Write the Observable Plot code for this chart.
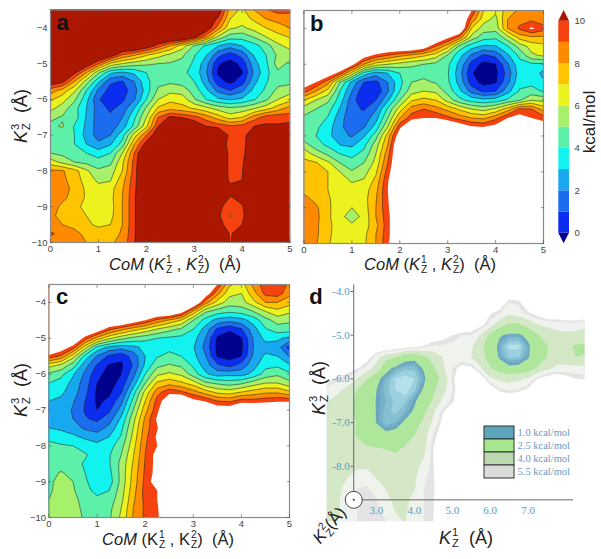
<!DOCTYPE html>
<html><head><meta charset="utf-8">
<script src="https://cdn.jsdelivr.net/npm/d3@7"></script>
<script src="https://cdn.jsdelivr.net/npm/@observablehq/plot@0.6"></script>
<style>
html,body{margin:0;padding:0;background:#fff}
#fig{position:relative;width:601px;height:559px;overflow:hidden;font-family:"Liberation Sans",sans-serif}
#fig svg{position:absolute;background:transparent}
.lab{position:absolute;white-space:nowrap;color:#222;transform-origin:center center;display:flex;align-items:center;line-height:1}
.kk{display:inline-flex;align-items:center;font-style:italic}
.st{display:inline-flex;flex-direction:column;font-size:.62em;line-height:.95;margin-left:1px;font-style:normal}
</style></head><body><div id="fig"></div>
<script>
const gridColumns = 21, gridRows = 27;
const panelA = [
12,12,12,12,12,12,12,12,12,12,12,12,12,12,11,7.5,6.8,8,8.9,9.4,9.3,
12,12,12,12,12,12,12,12,12,12,12,12,12,11,9.8,7,6.5,7.2,8,8.3,8.5,
12,12,12,12,12,12,12,12,12,12,12,12,12,11,8.5,6.2,5.8,6.4,7,7.6,8,
12,12,12,12,12,12,12,12,12,12,12,12,10.5,8.5,5.8,4.5,4.4,5.1,6,6.6,7.1,
12,12,12,12,12,12,12,12,11,9.5,8,6.5,4.9,3.8,3,2.4,3,3.6,4.5,5.8,6.3,
12,12,12,12,12,11,9,8.2,7.2,6.4,5.8,5.2,4.1,3.1,1.35,0.55,1.4,3.1,4,5.2,5.6,
12,12,12,11,9,6.8,6,5.5,5.2,5,4.9,4.7,3.8,2.4,0.1,-0.45,0.3,2.6,3.8,5.5,4.7,
12,12,10.3,8,5.2,3.2,2.8,3.2,4,4.4,4.3,4.2,3.7,2.1,-0.15,-0.8,-0.1,2.2,3.7,4.8,4.3,
11,10.3,8,5.5,3.2,1.2,0.9,2,3.7,4.7,4.8,4.6,4,2.5,0.35,-0.3,0.5,2.7,3.9,4.6,4.7,
8.5,7.6,6.2,4,1.8,0.6,0.5,1.6,3.5,5.2,5.7,5.5,4.6,3.2,1.7,1,1.8,3.3,4.2,5.3,5.6,
7.2,6.4,5.2,3.3,1.1,0.3,0.8,1.9,4,6,6.7,6.6,5.1,4,3.2,2.9,3.2,3.9,4.8,6,6.6,
6.3,5.5,4.4,3,1.5,0.8,1.4,3,5.2,7.2,7.7,7.3,6.9,6.3,5.6,5.2,5.4,5.9,6.6,7.5,8.5,
5.2,4.9,4.5,2.9,1.5,1.2,2,3.8,6,9,10.2,9.9,9.4,8.5,7.5,6.5,7,8.5,9.5,9.7,9.4,
4.8,5.1,3.9,2.8,1.5,1.4,2.5,4.3,6.7,10,11.5,12,11,10,9.6,9.2,9.4,10,10.2,10.1,10.5,
4.6,4.3,4,2.6,1.6,2,3.6,6.5,9,11,12,12,12,12,12,9.6,9.5,11,12,12,12,
4.7,4.4,4,3,2.2,2.9,4.4,8,10.5,12,12,12,12,12,11,9.5,9.6,11,12,12,12,
5,4.7,4.5,4,3.5,4,6,9,12,12,12,12,12,12,12,9.5,9.7,11,12,12,12,
6.5,5.7,5,4.7,4.4,4.7,6.8,9.4,12,12,12,12,12,12,12,9.5,9.8,11.5,12,12,12,
8.2,8.1,7.4,6.2,5.2,5.5,7,9.5,12,12,12,12,12,12,12,9.5,9.9,12,12,12,12,
8.4,8.2,7.6,6.5,5.8,5.9,7.6,9.6,12,12,12,12,12,12,12,9.6,10,12,12,12,12,
8.5,8.3,7.8,6.8,6.3,6.6,7.9,9.7,12,12,12,12,12,12,12,10.5,11,12,12,12,12,
8.5,8.3,7.5,6.9,6.4,6.7,8,9.8,12,12,12,12,12,12,11,9.9,10.3,12,12,12,12,
8.6,7.7,7.2,6.8,6.4,6.6,8,9.8,12,12,12,12,12,12,10.4,9.3,9.9,11,12,12,12,
8.5,7.3,7.3,7,6.5,6.7,8,9.8,12,12,12,12,12,12,10.2,8.9,9.8,11,12,12,12,
8.2,8,7.8,7.2,6.8,7,8,9.8,12,12,12,12,12,12,10.4,9.5,10,12,12,12,12,
9.2,8.6,8.2,7.8,7.5,7.3,8.2,9.8,12,12,12,12,12,12,11,9.9,10.5,12,12,12,12,
8.5,8.4,8.3,8,7.8,7.8,8.4,9.9,12,12,12,12,12,12,12,9.9,11,12,12,12,12];
const panelB = [
12,12,12,12,12,12,12,12,12,12,12,12,12,12,10,7,6.2,7.5,8.2,8.2,8,
12,12,12,12,12,12,12,12,12,12,12,12,12,12,8.7,6.4,5.7,8,8.6,8.8,8.4,
12,12,12,12,12,12,12,12,12,12,12,12,12,12,6.9,5.5,5.4,8,9.2,10.2,9.4,
12,12,12,12,12,12,12,12,12,12,12,12,10.3,8.6,5.6,4.4,4.2,5.6,7.4,7.8,7.8,
12,12,12,12,12,12,12,12,12,12,11,9,7.4,4.6,3.4,2.8,2.9,3.9,5.4,6.4,6.7,
12,12,12,12,12,10.8,9.7,9,8.3,7.8,7.2,6.5,4.9,3.3,1.8,0.85,1.3,2.8,4.2,5.8,6.2,
12,12,12,12,10.5,8,6.5,6,5.6,5.2,5,4.7,4.2,2.7,0.6,-0.35,-0.05,1.85,3.7,3.8,3.8,
12,12,11,9.5,6.6,3.6,2.5,3,4,4.5,4.7,4.4,4.1,2.4,0.1,-0.75,-0.3,1.4,3.5,3.8,2.6,
11,10,8.4,5,2.7,1,0.7,2,3.7,5,5.2,4.9,4.2,2.6,0.5,-0.4,-0.1,1.75,3.7,3.7,3.2,
9.4,8,6.6,4,2,0.3,0.2,1.9,4,5.6,6,5.8,4.6,3.2,1.6,0.8,1,2.6,4.1,4.4,3.9,
7,6,5.2,3.5,1.4,0.2,1,2.8,5,6.9,7.3,7,5.6,4.3,3.6,3.3,3.5,4.2,4.9,5.9,5.7,
5.5,5,4.4,2.9,1.3,0.9,1.9,4.2,6.5,8.5,9,8.4,7.7,6.8,6,5.6,6.2,7.5,9.2,9,7.6,
4.8,4.6,3.9,2.4,1.3,1.4,2.6,5,8,9.6,10,10,9.3,8.6,8,7.8,8.7,10,10.6,10,9.5,
4.3,4.2,3.5,2.2,1.5,1.9,3.4,6,9.7,12,12,12,12,11,10.2,10,10.5,12,12,12,11,
4.3,4,3.3,2.3,1.9,2.9,4.6,7.5,11,12,12,12,12,12,12,12,12,12,12,12,12,
5.5,4.4,3.8,3,2.8,3.7,5.5,8,12,12,12,12,12,12,12,12,12,12,12,12,12,
6.6,5.6,4.8,4,3.7,4.3,6,8.6,12,12,12,12,12,12,12,12,12,12,12,12,12,
7.3,7.1,6.2,5,4.4,5,6.3,9,12,12,12,12,12,12,12,12,12,12,12,12,12,
7.6,7.4,7,6,5.1,5.6,6.8,9.5,12,12,12,12,12,12,12,12,12,12,12,12,12,
7.6,7.5,7,6.4,5.9,6.1,7.3,9.9,12,12,12,12,12,12,12,12,12,12,12,12,12,
7.7,7.5,7,6.5,6.4,6.5,7.7,10,12,12,12,12,12,12,12,12,12,12,12,12,12,
8.3,7.7,7.1,6.6,6.3,6.6,7.9,9.9,12,12,12,12,12,12,12,12,12,12,12,12,12,
8.5,8.2,7.2,6.4,6,6.5,8,9.8,12,12,12,12,12,12,12,12,12,12,12,12,12,
8.6,8.3,7.2,6.3,5.5,6.3,8,9.6,12,12,12,12,12,12,12,12,12,12,12,12,12,
8.5,8.2,7.3,6.4,6.2,6.5,7.7,9.6,12,12,12,12,12,12,12,12,12,12,12,12,12,
8.5,8.2,7.2,6.5,6.5,6.7,8,9.6,12,12,12,12,12,12,12,12,12,12,12,12,12,
8.4,8.1,7.1,6.5,6.6,6.8,8,9.8,12,12,12,12,12,12,12,12,12,12,12,12,12];
const panelC = [
12,12,12,12,12,12,12,12,12,12,12,12,12,12,10,7.2,6.5,8.3,9.6,9.6,8.8,
12,12,12,12,12,12,12,12,12,12,12,12,12,11,8.3,6.3,6,7.6,9.3,9.5,8.3,
12,12,12,12,12,12,12,12,12,12,12,12,12,8.5,6.6,5.5,5.6,6.7,8,8,7.4,
12,12,12,12,12,12,12,12,12,12,12,10.7,7.8,5.2,4.5,4.2,4.4,5,6,6.7,6.2,
12,12,12,12,12,12,12,11,10,8.7,7.8,6.9,5,3.6,2.6,2.3,2.6,3.4,4.6,5.4,5.2,
12,12,12,12,11,9.3,8.3,7.4,6.7,5.9,5.3,4.8,4,2.6,0.8,0.15,0.9,2.6,3.9,4.5,4.5,
12,12,12,9.5,7.6,6.2,5.3,4.7,4.3,4,3.8,3.7,3.4,2,-0.2,-0.6,-0.1,2.1,3.3,3.2,2.7,
12,11,9.5,6.5,3.7,2.8,2.4,2.7,3.3,3.6,3.7,3.5,3.1,1.7,-0.3,-1,-0.25,2,2.6,2.5,0.5,
9.7,8.8,6.4,3.6,1.9,0.8,0.3,1.4,3,3.9,4.3,4,3.3,2.1,-0.1,-0.45,0,2.2,3.2,3,1.9,
6.4,5.8,4.5,2.4,0.9,-0.1,-0.2,1.1,3.2,4.7,5.1,4.8,3.8,2.5,1.2,0.6,1.4,2.6,3.7,3.8,3.1,
4.8,4.3,3.1,1.8,0.3,-0.4,0,1.6,4,5.8,6.2,5.8,4.5,3.2,2.5,2.7,2.6,3.3,4.4,4.8,4.2,
4,3.6,2.7,1.5,0,-0.4,0.3,2.4,5,7.2,7.6,7.2,6.5,5.2,4.8,4.5,4.8,5.5,6,6,5.3,
3.5,3.2,2.5,1.3,-0.2,-0.2,0.9,3.5,6.3,8.6,9.7,9.2,8.4,7.5,6.7,6.5,7,7.4,7.8,7.8,7.2,
3,2.8,2.1,1,-0.2,0.2,1.7,4.3,7,9.4,11,12,10.4,9.9,9,8.8,9.5,9.4,9.6,9.8,9.8,
2.8,2.5,1.9,0.9,0,0.8,2.4,5,7.6,9.7,12,12,12,12,11,11,12,12,12,12,12,
2.6,2.5,2,1.1,0.8,1.5,3.2,5.6,8.2,10.2,12,12,12,12,12,12,12,12,12,12,12,
3,2.8,2.5,1.8,1.5,2.3,3.7,6,8.5,9.9,12,12,12,12,12,12,12,12,12,12,12,
3.8,3.5,3.2,2.8,2.5,3,4.1,6.3,8.7,10.2,12,12,12,12,12,12,12,12,12,12,12,
4.2,4.1,4,3.6,3.3,3.6,4.6,6.6,8.9,10,12,12,12,12,12,12,12,12,12,12,12,
4.3,4.3,4.3,4.1,3.6,3.9,5,6.9,9,10.5,12,12,12,12,12,12,12,12,12,12,12,
4.4,4.4,4.3,3.9,3.4,3.9,5.3,7.1,9.1,10.5,12,12,12,12,12,12,12,12,12,12,12,
4.6,5.1,4.6,4,3.3,3.7,5.3,7.3,9.2,10.5,12,12,12,12,12,12,12,12,12,12,12,
4.7,5.5,5,4.2,3.2,3.5,5.3,7.4,9.3,10.8,12,12,12,12,12,12,12,12,12,12,12,
4.8,5.5,5.1,4.4,3.6,4,5.5,7.6,9.4,10,12,12,12,12,12,12,12,12,12,12,12,
5,5.6,5.3,4.6,4.3,4.4,5.7,7.8,9.3,10,12,12,12,12,12,12,12,12,12,12,12,
5.2,5.6,5.3,4.8,4.5,4.7,6,8,9.2,9.8,12,12,12,12,12,12,12,12,12,12,12,
5.3,5.6,5.3,4.9,4.6,4.8,6.2,8.1,9.2,9.7,12,12,12,12,12,12,12,12,12,12,12];
const dColumns = 28, dRows = 22;
const panelD = [
7,7,7,7,7,7,7,7,7,7,7,7,7,7,7,7,7,7,7,7,7,7,7,7,7,7,7,7,
7,7,7,7,7,7,7,7,7,7,7,7,7,7,7,7,7,7,6.5,5,5.2,6.8,7,7,7,7,7,7,
7,7,7,7,7,7,7,7,7,7,7,7,7,7,7,7,7,5.6,5,4.2,4.6,5.3,6,7,7,7,7,7,
7,7,7,7,7,7,7,7,7,7,7,7,7,7,7,6.6,6,4.7,3.1,2.4,2.4,3.1,4,4.2,4.4,4.6,4.7,4.3,
7,7,7,7,7,7,7,7,7,7,7,6.3,6,5.5,5,5,3.8,2.1,1.1,0.8,0.8,1.3,2.3,3.5,3.7,3.7,3.6,3.5,
7,7,7,7,7,7,7,6.6,6.3,5.9,5.4,5,4.9,4.7,4.4,4.2,2.9,1.6,0.75,0.35,0.35,0.8,1.8,2.4,3.3,2.9,2.3,2.2,
7,7,6.9,6.6,6.2,4.5,3,2.6,1.3,1.2,2.2,3,4,4.2,4.2,4,3,1.8,0.85,0.5,0.5,0.9,1.9,2.5,3.5,3.1,2.5,2.6,
6.8,6.5,6,5.6,4.6,3.5,1.3,0.8,0.6,0.6,1.1,2.3,3.8,5,6,5.7,4.1,2.6,1.7,1.15,1.2,1.6,2.6,3.6,4.2,4.4,4.4,4.3,
5.7,5.3,4.9,3.9,2.6,1.2,0.7,0.4,0.3,0.4,0.8,2,2.8,5.2,6.5,7,6.5,4.2,3.7,3.5,3.7,4.2,5.5,6.2,6.5,6,5.5,5.4,
4.6,4.2,3.6,2.4,1.6,1,0.6,0.4,0.3,0.5,1.1,2.2,3.5,5,6.5,7,7,6.4,5.2,4.8,5.1,5.7,6.5,7,7,7,7,7,
4,3.6,3,2.1,1.5,0.95,0.7,0.5,0.5,0.9,1.4,2.7,4.2,5.3,6.5,7,7,7,7,7,7,7,7,7,7,7,7,7,
3.6,3.4,2.9,2.2,1.6,0.95,0.6,0.5,0.7,1.1,2.2,3.8,5.4,6.2,7,7,7,7,7,7,7,7,7,7,7,7,7,7,
3.6,3.4,3,2.4,1.7,0.95,0.6,0.7,1.1,1.8,2.8,4.3,5.8,7,7,7,7,7,7,7,7,7,7,7,7,7,7,7,
3.7,3.5,3.2,2.3,2,1.6,1.1,1.2,1.7,2.4,3.3,5,6.2,7,7,7,7,7,7,7,7,7,7,7,7,7,7,7,
3.7,3.6,3.4,2.8,2.4,2.2,2.1,2.1,2.4,3,3.6,5.4,6.5,7,7,7,7,7,7,7,7,7,7,7,7,7,7,7,
3.8,3.7,3.6,3.5,3.4,3.2,3,2.6,3,3.5,3.9,5.5,6.8,7,7,7,7,7,7,7,7,7,7,7,7,7,7,7,
3.8,3.8,3.8,3.8,3.8,3.6,3.5,3.4,3.5,3.7,4.3,5.4,7,7,7,7,7,7,7,7,7,7,7,7,7,7,7,7,
3.8,3.8,4,4.4,4.6,3.9,3.6,3.5,3.6,3.8,4.8,5.4,7,7,7,7,7,7,7,7,7,7,7,7,7,7,7,7,
3.8,3.8,4.4,5,5.1,4.6,3.9,3.6,3.7,3.9,5,5.3,7,7,7,7,7,7,7,7,7,7,7,7,7,7,7,7,
3.9,3.9,4.5,5,5.1,5,4.3,3.7,3.7,4.3,5,5.4,7,7,7,7,7,7,7,7,7,7,7,7,7,7,7,7,
3.9,3.9,4.6,5,5.1,5.1,4.8,3.9,3.8,4.6,5,5.4,7,7,7,7,7,7,7,7,7,7,7,7,7,7,7,7,
3.9,4,4.7,5,5.1,5.1,5,4.3,3.9,4.8,5,5.5,7,7,7,7,7,7,7,7,7,7,7,7,7,7,7,7];

const levels = [0,1,2,3,4,5,6,7,8,9,10];
const bandColors = ["#00008f","#0a2df0","#1c6cf0","#18a8f0","#12f2ee","#5cf0a8","#a6f06a","#ecf21e","#ffc400","#ff8a00","#f5420e"];
const topColorA = "#ab1700";
const topColorBC = "#ffffff";
const xTicks = [0,1,2,3,4,5];
const yTicks = [-4,-5,-6,-7,-8,-9,-10];
const cbTicks = [0,2,4,6,8,10];
const dLegendLabels = ["1.0 kcal/mol","2.5 kcal/mol","4.0 kcal/mol","5.5 kcal/mol"];
const dLegendColors = ["#5ba6bc","#a6e68f","#bcd8ae","#dcdcdc"];
const dLevels = [-5.5,-5,-4,-2.5,-1,-0.85,-0.7,-0.55,-0.4];
const dColors = ["#ffffff","#e4e4e4","#f0f2ee","#d4e8c8","#aee79c","#6aa6c0","#76b1c8","#86bfd2","#9bd0de","#b3e0ea"];
const dXTicks = [3,4,5,6,7];
const dYTicks = [-4,-5,-6,-7,-8];

const fig = document.getElementById("fig");
const fmtMinus = d => (d < 0 ? "\u2212" + (-d) : String(d));
function place(el, left, top){ el.style.left = left + "px"; el.style.top = top + "px"; fig.appendChild(el); return el; }

function panel(values, o){
  const grid = {value:d=>d,width:gridColumns,height:gridRows,x1:-0.125,x2:5.125,y1:-3.375,y2:-10.125,fill:"value",clip:true};
  const inward = {tickSize:-3,stroke:"#555",strokeWidth:0.6,label:null};
  return Plot.plot({
    width:o.width, height:o.height,
    marginLeft:o.ml, marginRight:o.mr, marginTop:o.mt, marginBottom:o.mb,
    style:{fontFamily:"Liberation Sans, sans-serif", fontSize:"9.5px", color:"#444", background:"transparent"},
    x:{domain:[0,5], label:null},
    y:{domain:[-10,-3.5], label:null},
    color:{type:"threshold", domain:levels, range:[...bandColors, o.top]},
    marks:[
      Plot.contour(values,{...grid,thresholds:[-3,...levels.slice(0,10)],stroke:"#1a1a1a",strokeWidth:0.6,strokeOpacity:0.85}),
      Plot.contour(values,{...grid,thresholds:[10],stroke:o.topLine?"#1a1a1a":"none",strokeWidth:0.6}),
      Plot.frame({stroke:"#8a8a8a",strokeWidth:1.2}),
      Plot.axisX(xTicks,{...inward,anchor:"bottom",tickPadding:6,fill:"#444",tickFormat:d=>d}),
      Plot.axisX(xTicks,{...inward,anchor:"top",tickFormat:()=>""}),
      Plot.axisY(yTicks,{...inward,anchor:"left",tickPadding:o.yLabels?6:0,fill:"#444",tickFormat:o.yLabels?fmtMinus:()=>""}),
      Plot.axisY(yTicks,{...inward,anchor:"right",tickFormat:()=>""}),
      Plot.text([o.letter],{frameAnchor:"top-left",dx:o.ldx,dy:o.ldy,text:d=>d,fontSize:22,fontWeight:"bold",fill:"#111",lineAnchor:"top"})
    ]
  });
}
place(panel(panelA,{width:300,height:262,ml:50,mr:10.5,mt:9.5,mb:20,top:topColorA,topLine:true,yLabels:true,letter:"a",ldx:6,ldy:4}),0,0);
place(panel(panelB,{width:250,height:262,ml:3.5,mr:7,mt:10,mb:19,top:topColorBC,topLine:false,yLabels:false,letter:"b",ldx:6,ldy:5}),300,0);
place(panel(panelC,{width:300,height:260,ml:48.5,mr:11,mt:9,mb:18,top:topColorBC,topLine:false,yLabels:true,letter:"c",ldx:7,ldy:4}),0,275);

// colour bar
const capTop = [{x:0,a:10,b:10},{x:0.5,a:10,b:10.5},{x:1,a:10,b:10}];
const capBottom = [{x:0,a:0,b:0},{x:0.5,a:-0.5,b:0},{x:1,a:0,b:0}];
const cbBands = levels.slice(0,10).map((d,i)=>({lo:d,hi:d+1,c:bandColors[i+1]}));
place(Plot.plot({
  width:53,height:250,marginLeft:10.3,marginRight:32,marginTop:20.7,marginBottom:17.3,
  style:{fontFamily:"Liberation Sans, sans-serif",fontSize:"9.5px",color:"#444",background:"transparent",overflow:"visible"},
  x:{domain:[0,1],axis:null}, y:{domain:[0,10],label:null},
  marks:[
    Plot.rectY(cbBands,{x1:0,x2:1,y1:"lo",y2:"hi",fill:"c",inset:0}),
    Plot.areaY(capTop,{x:"x",y1:"a",y2:"b",fill:topColorA}),
    Plot.areaY(capBottom,{x:"x",y1:"a",y2:"b",fill:bandColors[0]}),
    Plot.axisY(cbTicks,{anchor:"right",tickSize:0,tickPadding:5,fill:"#444",tickFormat:d=>d,label:null})
  ]
}),548,0);

// panel d
const dOrigin = [{x:2.4,y:-8.77}];
place(Plot.plot({
  width:301,height:279,marginLeft:26.7,marginRight:16.5,marginTop:4.4,marginBottom:37.8,
  style:{fontFamily:"Liberation Serif, serif",fontSize:"11px",background:"transparent"},
  x:{domain:[1.7,8.5],label:null,axis:null},
  y:{domain:[-9.27,-3.85],label:null,axis:null},
  color:{type:"threshold",domain:dLevels,range:dColors},
  marks:[
    Plot.contour(panelD,{value:d=>-d,width:dColumns,height:dRows,x1:1.625,x2:8.625,y1:-3.875,y2:-9.375,
      thresholds:dLevels,fill:"value",stroke:"none",clip:true}),
    Plot.ruleX(dOrigin,{x:"x",y1:"y",y2:()=>-3.85,stroke:"#666",strokeWidth:1}),
    Plot.ruleY(dOrigin,{y:"y",x1:"x",x2:()=>8.2,stroke:"#666",strokeWidth:1}),
    Plot.ruleY(dYTicks,{y:d=>d,x1:()=>2.33,x2:()=>2.4,stroke:"#666",strokeWidth:1}),
    Plot.text(dXTicks,{x:d=>d,y:()=>-8.77,dy:11,text:d=>d.toFixed(1),fill:"#4f9cc4",fontSize:11}),
    Plot.text(dYTicks,{x:()=>2.4,y:d=>d,dx:-4,textAnchor:"end",text:d=>d.toFixed(1),fill:"#4f9cc4",fontSize:11}),
    Plot.dot(dOrigin,{x:"x",y:"y",r:8.5,stroke:"#333",fill:"#fff",strokeWidth:0.9}),
    Plot.dot(dOrigin,{x:"x",y:"y",r:1,fill:"#333"}),
    Plot.text(["d"],{frameAnchor:"top-left",dx:-18,dy:3,text:d=>d,fontSize:22,fontWeight:"bold",fill:"#111",lineAnchor:"top",fontFamily:"Liberation Sans, sans-serif"})
  ]
}),300,280);

// panel d legend
place(Plot.plot({
  width:105,height:53,marginLeft:0,marginRight:75,marginTop:0,marginBottom:0,
  style:{fontFamily:"Liberation Serif, serif",fontSize:"10.5px",background:"transparent",overflow:"visible"},
  x:{axis:null},
  y:{domain:dLegendLabels,axis:null,padding:0},
  marks:[
    Plot.cell(dLegendLabels,{y:d=>d,fill:(d,i)=>dLegendColors[i],stroke:"#333",strokeWidth:1,inset:0}),
    Plot.text(dLegendLabels,{y:d=>d,frameAnchor:"right",textAnchor:"start",dx:3,text:d=>d,fill:"#6b97c2",fontSize:10.5})
  ]
}),483.5,425);

// axis titles and side labels
function label(html,cx,cy,size,rot){
  const d=document.createElement("div");d.className="lab";d.innerHTML=html;d.style.fontSize=size+"px";
  d.style.left=cx+"px";d.style.top=cy+"px";d.style.transform=`translate(-50%,-50%) rotate(${rot||0}deg)`;fig.appendChild(d);return d;
}
const k=(u)=>`<span class="kk">K<span class="st"><span>${u}</span><span>Z</span></span></span>`;
const kn=(u)=>`<span class="kk" style="font-style:normal">K<span class="st"><span>${u}</span><span>Z</span></span></span>`;
const com=(f)=>`<i>CoM</i>&nbsp;(${f("1")}&nbsp;,&nbsp;${f("2")})&nbsp;&nbsp;(Å)`;
label(com(k),175,265,16.5);
label(com(k),430,265,16.5);
label(com(kn),168,540,16.5);
label(`${k("3")}&nbsp;&nbsp;(Å)`,21,116,18,-90);
label(`${k("3")}&nbsp;&nbsp;(Å)`,21,390,18,-90);
label(`${k("3")}&nbsp;&nbsp;(Å)`,319,388,18,-90);
label(`${k("2")}(Å)`,329,525,17,-50);
label(`${k("1")}&nbsp;&nbsp;(Å)`,466,538,18);
label(`kcal/mol`,589,122,17,-90);
</script></body></html>
